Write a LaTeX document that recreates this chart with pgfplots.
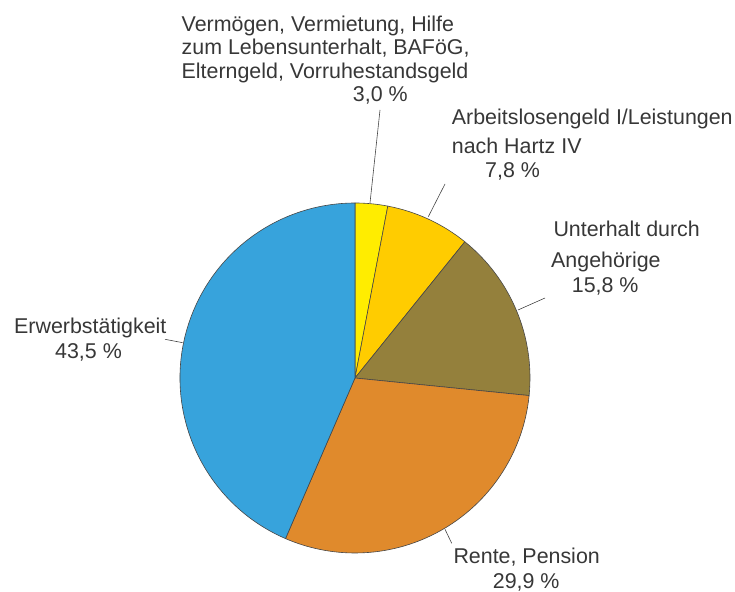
\documentclass[border=0pt]{standalone}
\usepackage{fontspec}
\setmainfont{Liberation Sans}
\usepackage{pgfplots}
\usepackage{pgfplotstable}
\pgfplotsset{compat=1.18}
\definecolor{cYellow}{RGB}{255,237,0}
\definecolor{cGold}{RGB}{255,204,0}
\definecolor{cOlive}{RGB}{148,128,60}
\definecolor{cOrange}{RGB}{224,138,44}
\definecolor{cBlue}{RGB}{55,163,220}
\definecolor{edgecol}{RGB}{70,70,70}
\definecolor{txt}{RGB}{55,55,55}
\pgfplotstableread{
share
3.0
7.8
15.8
29.9
43.5
}\piedata
\def\cum{0}
\pgfplotsforeachungrouped \i in {0,...,4}{%
  \pgfplotstablegetelem{\i}{share}\of\piedata
  \pgfmathsetmacro\sa{90-3.6*\cum}%
  \pgfmathsetmacro\cum{\cum+\pgfplotsretval}%
  \pgfmathsetmacro\sb{90-3.6*\cum}%
  \expandafter\xdef\csname pieA\i\endcsname{\sa}%
  \expandafter\xdef\csname pieB\i\endcsname{\sb}%
}
\newcommand\pieWedge[2]{%
  \filldraw[fill=#2, draw=edgecol, line width=0.6pt, line join=round]
    (axis cs:355,214) -- (axis cs:{355+175*cos(\csname pieA#1\endcsname)},{214+175*sin(\csname pieA#1\endcsname)})
    arc[start angle=\csname pieA#1\endcsname, end angle=\csname pieB#1\endcsname, radius=175bp] -- cycle;%
}
\begin{document}
\begin{tikzpicture}
\begin{axis}[scale only axis, width=735bp, height=592bp,
  xmin=0, xmax=735, ymin=0, ymax=592, enlargelimits=false,
  hide axis, clip=false]
\addplot[draw=none] coordinates {(0,0) (735,592)};
\pieWedge{0}{cYellow}
\pieWedge{1}{cGold}
\pieWedge{2}{cOlive}
\pieWedge{3}{cOrange}
\pieWedge{4}{cBlue}
% leader lines
\draw[edgecol, line width=0.6pt] (axis cs:380,482) -- (axis cs:370,389);
\draw[edgecol, line width=0.6pt] (axis cs:445,408) -- (axis cs:428.3,375.3);
\draw[edgecol, line width=0.6pt] (axis cs:545,294) -- (axis cs:518,282);
\draw[edgecol, line width=0.6pt] (axis cs:165,252.7) -- (axis cs:182.7,249.3);
\draw[edgecol, line width=0.6pt] (axis cs:445,62.7) -- (axis cs:451.7,48.7);
% labels
\tikzset{lbl/.style={anchor=base west, inner sep=0pt, text=txt, font=\fontsize{21.4bp}{24bp}\selectfont}}
\node[lbl] at (axis cs:181.5,560.3) {Vermögen, Vermietung, Hilfe};
\node[lbl] at (axis cs:181.5,537) {zum Lebensunterhalt, BAFöG,};
\node[lbl] at (axis cs:181.5,513.7) {Elterngeld, Vorruhestandsgeld};
\node[lbl] at (axis cs:352.7,490.3) {3,0 \%};
\node[lbl] at (axis cs:451.7,467) {Arbeitslosengeld I/Leistungen};
\node[lbl] at (axis cs:451.7,438.7) {nach Hartz IV};
\node[lbl] at (axis cs:485,414) {7,8 \%};
\node[lbl] at (axis cs:553.3,355.3) {Unterhalt durch};
\node[lbl] at (axis cs:551,324) {Angehörige};
\node[lbl] at (axis cs:571.7,299) {15,8 \%};
\node[lbl] at (axis cs:14,258.7) {Erwerbstätigkeit};
\node[lbl] at (axis cs:55,233.7) {43,5 \%};
\node[lbl] at (axis cs:453.3,28.7) {Rente, Pension};
\node[lbl] at (axis cs:492.7,3.7) {29,9 \%};
\end{axis}
\pgfresetboundingbox
\path (0,0) rectangle (735bp,592bp);
\end{tikzpicture}
\end{document}
